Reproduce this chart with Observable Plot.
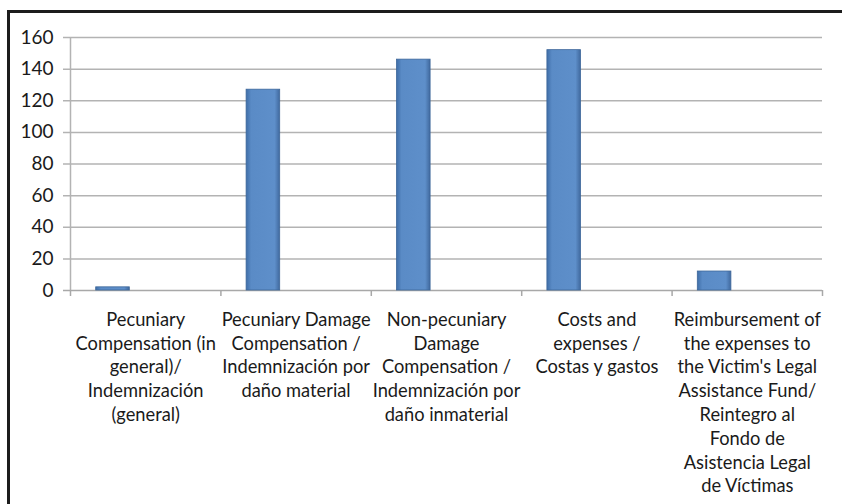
<!DOCTYPE html>
<html>
<head>
<meta charset="utf-8">
<script src="https://cdn.jsdelivr.net/npm/d3@7"></script>
<script src="https://cdn.jsdelivr.net/npm/@observablehq/plot@0.6"></script>
<style>
  html, body { margin: 0; padding: 0; background: #fff; overflow: hidden; }
  #wrap { position: relative; width: 842px; height: 504px; }
  #frame { position: absolute; left: 7px; top: 10px; width: 900px; height: 600px;
           border-top: 3px solid #1c1c1c; border-left: 3px solid #1c1c1c; box-sizing: border-box; pointer-events: none; }
</style>
</head>
<body>
<div id="wrap"><div id="frame"></div></div>
<script>
const categories = [
  "Pecuniary\nCompensation (in\ngeneral)/\nIndemnización\n(general)",
  "Pecuniary Damage\nCompensation /\nIndemnización por\ndaño material",
  "Non-pecuniary\nDamage\nCompensation /\nIndemnización por\ndaño inmaterial",
  "Costs and\nexpenses /\nCostas y gastos",
  "Reimbursement of\nthe expenses to\nthe Victim's Legal\nAssistance Fund/\nReintegro al\nFondo de\nAsistencia Legal\nde Víctimas"
];
const values = [2, 127, 146, 152, 12];
const yTicks = [0, 20, 40, 60, 80, 100, 120, 140, 160];

const data = categories.map((c, i) => ({category: c, value: values[i]}));

const W = 842, H = 504;
const mL = 70, mR = 20, mT = 37, mB = 214;
const band = (W - mL - mR) / categories.length;
const FS = 18.3;

const defs = () => {
  const d = d3.create("svg:defs");
  const g = d.append("linearGradient").attr("id", "barGrad").attr("x1", "0").attr("x2", "1").attr("y1", "0").attr("y2", "0");
  g.append("stop").attr("offset", "0").attr("stop-color", "#3f6ea8");
  g.append("stop").attr("offset", "0.15").attr("stop-color", "#5a8bc6");
  g.append("stop").attr("offset", "0.85").attr("stop-color", "#5e8fca");
  g.append("stop").attr("offset", "1").attr("stop-color", "#40699e");
  return d.node();
};

const chart = Plot.plot({
  width: W, height: H,
  marginLeft: mL, marginRight: mR, marginTop: mT, marginBottom: mB,
  style: {fontFamily: "Lato, sans-serif", fontSize: FS + "px", color: "#1a1a1a", background: "transparent"},
  x: {type: "band", domain: categories, paddingInner: 0, paddingOuter: 0, round: false, axis: null},
  y: {domain: [0, 160], axis: null},
  marks: [
    defs,
    Plot.ruleY(yTicks.filter(t => t > 0), {stroke: "#b3b3b3", strokeWidth: 1.5, insetLeft: -7}),
    Plot.ruleX([0], {x: () => categories[0], y1: 0, y2: 160, dx: -band / 2, stroke: "#b3b3b3", strokeWidth: 1.5}),
    Plot.ruleY([0], {stroke: "#a8a8a8", strokeWidth: 1.5, insetLeft: -7}),
    Plot.ruleX(categories, {x: d => d, y1: 0, y2: 0, dx: -band / 2, insetBottom: -6, stroke: "#a8a8a8", strokeWidth: 1.5}),
    Plot.ruleX([categories[categories.length - 1]], {x: d => d, y1: 0, y2: 0, dx: band / 2, insetBottom: -6, stroke: "#a8a8a8", strokeWidth: 1.5}),
    Plot.barY(data, {x: "category", y: "value", insetLeft: 25.7, insetRight: band - 59.3,
      fill: "url(#barGrad)", stroke: "#3c6699", strokeWidth: 0.8}),
    Plot.axisY({ticks: yTicks, tickSize: 0, tickPadding: 17, fontSize: 19, fill: "#1a1a1a", label: null}),
    Plot.axisX({tickSize: 0, tickPadding: 18.5, lineHeight: 23.8 / FS, fontSize: FS, fill: "#1a1a1a", label: null})
  ]
});
document.getElementById("wrap").insertBefore(chart, document.getElementById("frame"));
</script>
</body>
</html>
